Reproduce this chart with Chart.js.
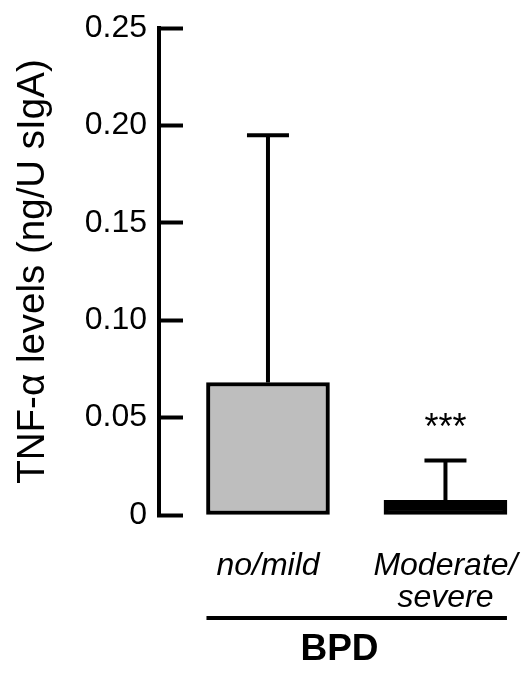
<!DOCTYPE html>
<html>
<head>
<meta charset="utf-8">
<script src="https://cdn.jsdelivr.net/npm/chart.js@4/dist/chart.umd.min.js"></script>
<style>
  body { margin: 0; background: #fff; }
</style>
</head>
<body>
<canvas id="tnfChart" width="530" height="680"></canvas>
<script>
// group positions on the x axis, their labels and the measured values
const groupPos = [1, 2];
const groupLabels = ['no/mild', ['Moderate/', 'severe']];
const meanValues = [0.068, 0.0075];
const upperValues = [0.195, 0.028];   // top of the error whiskers
const sigMarks = ['', '***'];
const yTicks = [0, 0.05, 0.10, 0.15, 0.20, 0.25];

const FONT = "'Liberation Sans', Arial, sans-serif";
const BAR_W = 123;

// error whiskers, significance stars and the BPD bracket
const extras = {
    id: 'extras',
    afterDatasetsDraw(chart) {
        const ctx = chart.ctx;
        const x = chart.scales.x, y = chart.scales.y;
        ctx.save();
        ctx.strokeStyle = '#000';
        ctx.fillStyle = '#000';
        groupPos.forEach((p, i) => {
            const px = x.getPixelForValue(p);
            const top = y.getPixelForValue(meanValues[i]);
            const up = y.getPixelForValue(upperValues[i]);
            ctx.lineWidth = 4;
            ctx.beginPath();
            ctx.moveTo(px, top);
            ctx.lineTo(px, up);
            ctx.stroke();
            ctx.beginPath();
            ctx.moveTo(px - 21, up);
            ctx.lineTo(px + 21, up);
            ctx.stroke();
            if (sigMarks[i]) {
                ctx.font = '36px ' + FONT;
                ctx.textAlign = 'center';
                ctx.textBaseline = 'alphabetic';
                ctx.fillText(sigMarks[i], px, up - 21);
            }
        });
        // bracket under the two groups
        const left = x.getPixelForValue(groupPos[0]) - BAR_W / 2;
        const right = x.getPixelForValue(groupPos[1]) + BAR_W / 2;
        const by = chart.chartArea.bottom + 103;
        ctx.lineWidth = 4;
        ctx.beginPath();
        ctx.moveTo(left, by);
        ctx.lineTo(right, by);
        ctx.stroke();
        ctx.restore();
    }
};

new Chart(document.getElementById('tnfChart'), {
    type: 'bar',
    data: {
        datasets: [{
            data: groupPos.map((p, i) => ({ x: p, y: meanValues[i] })),
            backgroundColor: ['#bebebe', '#000000'],
            borderColor: '#000',
            borderWidth: 4,
            borderSkipped: false,
            barThickness: BAR_W
        }]
    },
    options: {
        responsive: false,
        animation: false,
        layout: { padding: { left: 10, top: 28, right: 10, bottom: 5 } },
        plugins: {
            legend: { display: false },
            tooltip: { enabled: false }
        },
        scales: {
            x: {
                type: 'linear',
                offset: false,
                min: 0.386,
                max: 2.42,
                afterBuildTicks: (scale) => {
                    scale.ticks = groupPos.map(v => ({ value: v }));
                },
                afterFit: (scale) => {
                    scale.height = 160;
                    scale.paddingLeft = 0;
                    scale.paddingRight = 0;
                },
                border: { display: false },
                grid: { display: false, drawTicks: false },
                ticks: {
                    autoSkip: false,
                    maxRotation: 0,
                    padding: 35,
                    color: '#000',
                    font: { family: FONT, size: 32, style: 'italic', lineHeight: 1.0 },
                    callback: (v) => groupLabels[groupPos.indexOf(v)]
                },
                title: {
                    display: true,
                    text: 'BPD',
                    color: '#000',
                    font: { family: FONT, size: 37, weight: 'bold', lineHeight: 1.2 },
                    padding: { top: 0, bottom: 3 }
                }
            },
            y: {
                min: 0,
                max: 0.25,
                afterBuildTicks: (scale) => {
                    scale.ticks = yTicks.map(v => ({ value: v }));
                },
                afterFit: (scale) => {
                    scale.width = 149;
                    scale.paddingTop = 15;
                    scale.paddingBottom = 15;
                },
                border: { display: true, color: '#000', width: 4 },
                grid: {
                    drawOnChartArea: false,
                    drawTicks: true,
                    tickLength: -24,
                    tickColor: '#000',
                    tickWidth: 4
                },
                ticks: {
                    padding: 36,
                    color: '#000',
                    font: { family: FONT, size: 32 },
                    callback: (v) => v === 0 ? '0' : v.toFixed(2)
                },
                title: {
                    display: true,
                    text: 'TNF-α levels (ng/U sIgA)',
                    color: '#000',
                    font: { family: FONT, size: 38.5, lineHeight: 1.2 },
                    padding: { top: 0, bottom: 8 }
                }
            }
        }
    },
    plugins: [extras]
});
</script>
</body>
</html>
